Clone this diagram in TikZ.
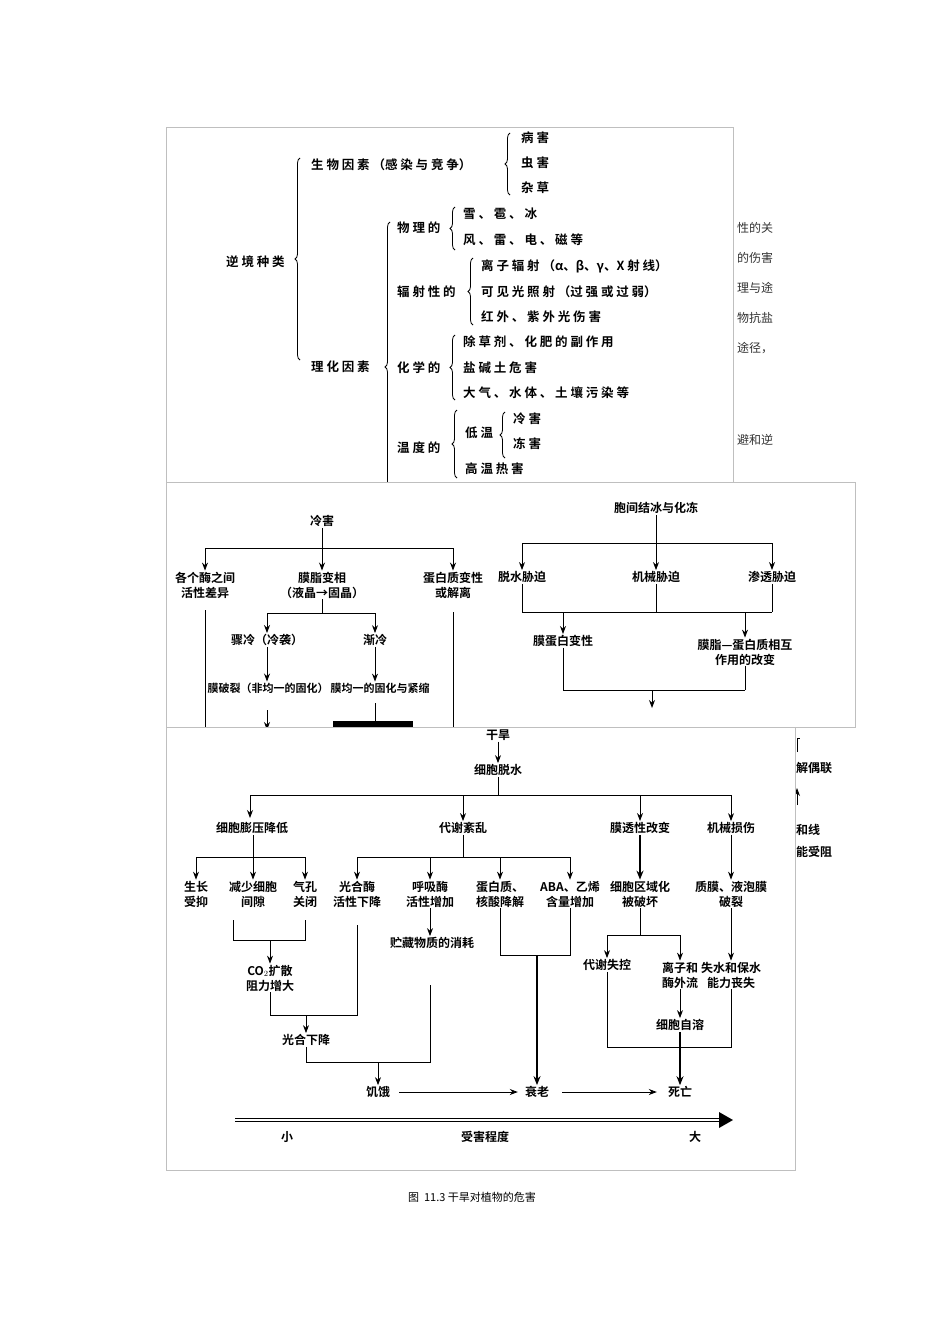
\documentclass[tikz,border=0pt]{standalone}
\usepackage{fontspec}
\setmainfont{Noto Sans CJK SC}[BoldFont={Noto Sans CJK SC Bold}]
\usetikzlibrary{arrows.meta,decorations.pathreplacing}
\begin{document}
\begin{tikzpicture}[x=1pt,y=-1pt,
 t/.style={inner sep=1pt,font=\fontsize{12}{15}\selectfont\bfseries,align=center},
 tt/.style={inner sep=1pt,font=\fontsize{12.5}{15}\selectfont\bfseries,anchor=west},
 ar/.style={-{Stealth[length=8pt,width=6pt]},line width=0.9pt},
 ln/.style={line width=0.9pt},
 thk/.style={-{Stealth[length=9pt,width=7pt]},line width=1.6pt},
 br/.style={decorate,decoration={brace,amplitude=5pt},line width=0.8pt},
 panel/.style={draw=black!25,line width=0.5pt,fill=white},
 bg/.style={inner sep=0pt,font=\fontsize{12}{14}\selectfont,text=black!80,anchor=west}]
\useasboundingbox[fill=white] (0,0) rectangle (950,1344);
% background page fragments
\foreach \s/\yy in {性的关/228,的伤害/258,理与途/288,物抗盐/318,途径，/348,避和逆/440}
  \node[bg] at (737,\yy) {\s};
% ===== top panel =====
\draw[panel] (166,127) rectangle (733,482);
\node[tt] (a0) at (225,262) {逆 境 种 类};
\draw[br] (300,360) -- (300,158);
\node[tt] (a1) at (310,165) {生 物 因 素 （感 染 与 竞 争）};
\draw[br] (510,195) -- (510,133);
\node[tt] (a11) at (520,138) {病 害};
\node[tt] (a12) at (520,163) {虫 害};
\node[tt] (a13) at (520,188) {杂 草};
\node[tt] (a2) at (310,367) {理 化 因 素};
\draw[br] (390,512) -- (390,222);
\node[tt] (b1) at (396,228) {物 理 的};
\draw[br] (455,250) -- (455,207);
\node[tt] (b11) at (462,214) {雪 、 雹 、 冰};
\node[tt] (b12) at (462,240) {风 、 雷 、 电 、 磁 等};
\node[tt] (b2) at (396,292) {辐 射 性 的};
\draw[br] (473,325) -- (473,258);
\node[tt] (b21) at (480,266) {离 子 辐 射 （α、β、γ、X 射 线）};
\node[tt] (b22) at (480,292) {可 见 光 照 射 （过 强 或 过 弱）};
\node[tt] (b23) at (480,317) {红 外 、 紫 外 光 伤 害};
\node[tt] (b3) at (396,368) {化 学 的};
\draw[br] (455,400) -- (455,335);
\node[tt] (b31) at (462,342) {除 草 剂 、 化 肥 的 副 作 用};
\node[tt] (b32) at (462,368) {盐 碱 土 危 害};
\node[tt] (b33) at (462,393) {大 气 、 水 体 、 土 壤 污 染 等};
\node[tt] (b4) at (396,448) {温 度 的};
\draw[br] (457,478) -- (457,410);
\node[tt] (b41) at (464,433) {低 温};
\draw[br] (505,458) -- (505,412);
\node[tt] (b411) at (512,419) {冷 害};
\node[tt] (b412) at (512,444) {冻 害};
\node[tt] (b42) at (464,469) {高 温 热 害};
% ===== middle panel =====
\draw[panel] (166,482) rectangle (855,727);
\node[t] (c0) at (322,521) {冷害};
\node[t] (c1) at (205,585) {各个酶之间\\活性差异};
\node[t] (c2) at (322,585) {膜脂变相\\（液晶→固晶）};
\node[t] (c3) at (453,585) {蛋白质变性\\或解离};
\draw[ln] (c0.south) -- (322,548);
\draw[ln] (205,548) -- (453,548);
\draw[ar] (205,548) -- (c1.north);
\draw[ar] (322,548) -- (c2.north);
\draw[ar] (453,548) -- (c3.north);
\coordinate (c1e) at (205,727); \coordinate (c3e) at (453,727);
\draw[ln] (205,610) -- (c1e);
\draw[ln] (453,612) -- (c3e);
\node[t] (c21) at (267,640) {骤冷（冷袭）};
\node[t] (c22) at (375,640) {渐冷};
\draw[ln] (c2.south) -- (322,613);
\draw[ln] (267,613) -- (375,613);
\draw[ar] (267,613) -- (c21.north);
\draw[ar] (375,613) -- (c22.north);
\node[t,font=\fontsize{11}{13}\selectfont\bfseries] (c31) at (268,688) {膜破裂（非均一的固化）};
\node[t,font=\fontsize{11}{13}\selectfont\bfseries] (c32) at (380,688) {膜均一的固化与紧缩};
\draw[ar] (c21.south) -- (c31.north -| c21.south);
\draw[ar] (c22.south) -- (c32.north -| c22.south);
\coordinate (c31e) at (267,730);
\draw[ar] (267,710) -- (c31e);
\coordinate (c32e) at (375,722);
\draw[ln] (375,703) -- (c32e);
\fill (333,721) rectangle (413,727);
\node[t] (d0) at (656,508) {胞间结冰与化冻};
\node[t] (d1) at (522,577) {脱水胁迫};
\node[t] (d2) at (656,577) {机械胁迫};
\node[t] (d3) at (772,577) {渗透胁迫};
\draw[ar] (d0.south) -- (d2.north);
\draw[ln] (522,543) -- (772,543);
\draw[ar] (522,543) -- (d1.north);
\draw[ar] (772,543) -- (d3.north);
\draw[ln] (d1.south) -- (522,612);
\draw[ln] (d2.south) -- (656,612);
\draw[ln] (d3.south) -- (772,612);
\draw[ln] (522,612) -- (772,612);
\node[t] (d4) at (563,641) {膜蛋白变性};
\node[t] (d5) at (745,652) {膜脂—蛋白质相互\\作用的改变};
\draw[ar] (563,612) -- (d4.north);
\draw[ar] (745,612) -- (d5.north);
\draw[ln] (d4.south) -- (563,690);
\draw[ln] (d5.south) -- (745,690);
\draw[ln] (563,690) -- (745,690);
\coordinate (d6) at (652,708);
\draw[ar] (652,690) -- (d6);
% right fragment
\node[t,anchor=west] (e1) at (795,768) {解偶联};
\node[t,anchor=west] (e2) at (795,830) {和线};
\node[t,anchor=west] (e3) at (795,852) {能受阻};
\draw[ln] (797,752) -- (797,738) -- (800,738);
\coordinate (e0) at (797,788);
\draw[ar] (797,805) -- (e0);
% ===== bottom panel =====
\draw[panel] (166,727) rectangle (795,1170);
\node[t] (f0) at (498,735) {干旱};
\node[t] (f1) at (498,770) {细胞脱水};
\draw[ar] (f0.south) -- (f1.north);
\draw[ln] (f1.south) -- (498,795);
\draw[ln] (250,795) -- (731,795);
\node[t] (g1) at (252,828) {细胞膨压降低};
\node[t] (g2) at (463,828) {代谢紊乱};
\node[t] (g3) at (640,828) {膜透性改变};
\node[t] (g4) at (731,828) {机械损伤};
\draw[ar] (250,795) -- (250,818);
\draw[ar] (463,795) -- (g2.north);
\draw[ar] (640,795) -- (g3.north);
\draw[ar] (731,795) -- (g4.north);
\node[t] (h1) at (196,894) {生长\\受抑};
\node[t] (h2) at (253,894) {减少细胞\\间隙};
\node[t] (h3) at (305,894) {气孔\\关闭};
\draw[ar] (g1.south -| h2.north) -- (h2.north);
\draw[ln] (196,857) -- (305,857);
\draw[ar] (196,857) -- (h1.north);
\draw[ar] (305,857) -- (h3.north);
\node[t] (h4) at (357,894) {光合酶\\活性下降};
\node[t] (h5) at (430,894) {呼吸酶\\活性增加};
\node[t] (h6) at (500,894) {蛋白质、\\核酸降解};
\node[t] (h7) at (570,894) {ABA、乙烯\\含量增加};
\draw[ln] (g2.south) -- (463,857);
\draw[ln] (357,857) -- (570,857);
\draw[ar] (357,857) -- (h4.north);
\draw[ar] (430,857) -- (h5.north);
\draw[ar] (500,857) -- (h6.north);
\draw[ar] (570,857) -- (h7.north);
\node[t] (h8) at (640,894) {细胞区域化\\被破坏};
\node[t] (h9) at (731,894) {质膜、液泡膜\\破裂};
\draw[thk] (g3.south) -- (h8.north);
\draw[ar] (g4.south) -- (h9.north);
% CO2
\node[t] (i1) at (270,978) {CO$_2$扩散\\阻力增大};
\draw[ln] (233,920) -- (233,940) -- (305,940) -- (305,920);
\draw[ar] (270,940) -- (i1.north);
\node[t] (i2) at (306,1040) {光合下降};
\draw[ln] (357,925) -- (357,1015) -- (270,1015) -- (i1.south);
\draw[ar] (306,1015) -- (i2.north);
\node[t] (i3) at (432,943) {贮藏物质的消耗};
\draw[ar] (h5.south) -- (i3.north -| h5.south);
\node[t] (j1) at (378,1092) {饥饿};
\draw[ln] (i2.south) -- (306,1062) -- (430,1062) -- (430,985);
\draw[ar] (378,1062) -- (j1.north);
\node[t] (j2) at (537,1092) {衰老};
\draw[ln] (h6.south) -- (500,955) -- (570,955) -- (h7.south);
\draw[thk] (537,955) -- (j2.north);
% right bottom
\node[t] (k1) at (607,965) {代谢失控};
\node[t] (k2) at (680,975) {离子和\\酶外流};
\node[t] (k3) at (731,975) {失水和保水\\能力丧失};
\draw[ln] (h8.south) -- (640,935);
\draw[ln] (607,935) -- (680,935);
\draw[ar] (607,935) -- (k1.north);
\draw[ar] (680,935) -- (k2.north);
\draw[ar] (h9.south) -- (k3.north);
\node[t] (k4) at (680,1025) {细胞自溶};
\draw[ar] (k2.south) -- (k4.north);
\node[t] (j3) at (680,1092) {死亡};
\draw[ln] (k1.south) -- (607,1047) -- (731,1047) -- (k3.south);
\draw[thk] (k4.south) -- (j3.north);
\draw[ar] ([xshift=8pt]j1.east) -- ([xshift=-6pt]j2.west);
\draw[ar] ([xshift=12pt]j2.east) -- ([xshift=-10pt]j3.west);
% scale arrow
\coordinate (s0) at (235,1120); \coordinate (s1) at (733,1120);
\draw[line width=3.6pt] (s0) -- ([xshift=-6pt]s1);
\draw[line width=1.4pt,white] (s0) -- ([xshift=-8pt]s1);
\fill (s1) -- ++(-14,-8) -- ++(0,16) -- cycle;
\node[t] (s2) at (287,1137) {小};
\node[t] (s3) at (485,1137) {受害程度};
\node[t] (s4) at (695,1137) {大};
% caption
\node[inner sep=0pt,font=\fontsize{11}{13}\selectfont] (cap) at (472,1197) {图\ \ 11.3\ 干旱对植物的危害};
\end{tikzpicture}
\end{document}
